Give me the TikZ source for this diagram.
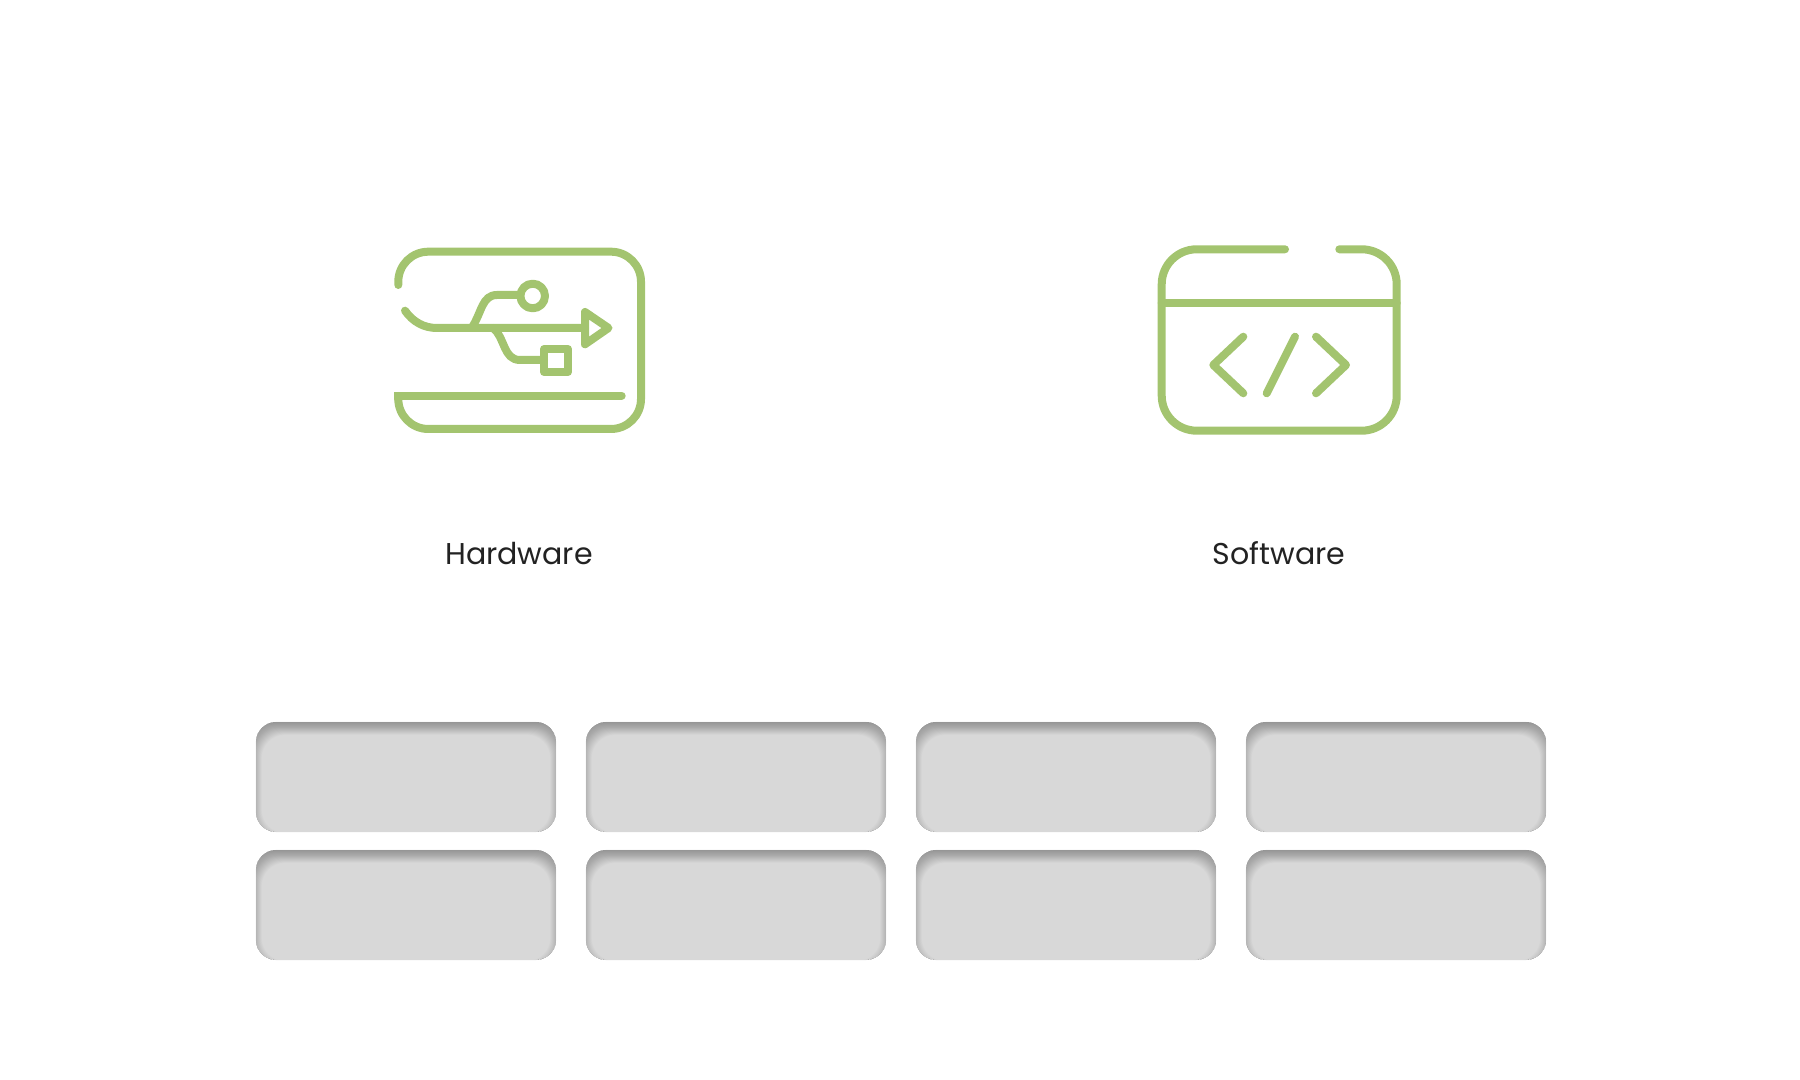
\documentclass[tikz,border=0pt]{standalone}
\usepackage{fontspec}
\setmainfont{Poppins}
\definecolor{icongreen}{HTML}{A3C46F}
\definecolor{slotgray}{HTML}{D8D8D8}
\definecolor{labelgray}{HTML}{222222}
\tikzset{
  icon/.style={draw=icongreen, line width=.08cm, line cap=round, line join=round},
  lbl/.style={text=labelgray, inner sep=0pt, anchor=base, font=\fontsize{8.55pt}{10pt}\selectfont},
  slot/.style={fill=slotgray, inner sep=0pt, minimum width=3cm, minimum height=1.1cm,
    rounded corners=.2cm, path picture={
      \foreach \h in {-7,-6.5,...,6}
        \fill[black, opacity=.0126, even odd rule]
          (path picture bounding box.north west) rectangle
          (path picture bounding box.south east)
          [rounded corners=.23cm]
          ([shift={(\h,{\h+7})}]path picture bounding box.north west) rectangle
          ([shift={(-\h,{7-\h})}]path picture bounding box.south east);
    }}
}
\begin{document}
\begin{tikzpicture}[x=.01cm, y=-.01cm]
  \useasboundingbox (0, 0) rectangle (1800, 1080);

  % usb icon
  \draw[icon, rounded corners=.3cm] (398.3, 285) -- (398.3, 251.7) -- (641, 251.7)
    -- (641, 429) -- (398.3, 429) -- (398.3, 396);
  \draw[icon, line join=miter] (398.3, 399) -- (398.3, 395.7) -- (621.7, 395.7);
  \draw[icon] (405, 310.7) .. controls (413, 322) and (424, 328) .. (437, 328)
    -- (585, 328);
  \draw[icon] (585, 312) -- (608.5, 328) -- (585, 344.3) -- cycle;
  \draw[icon] (471.7, 328) .. controls (482, 312) and (482, 295) .. (497, 295)
    -- (520, 295);
  \draw[icon] (532.7, 296) circle (12.3);
  \draw[icon] (493, 328) .. controls (505, 337) and (503, 360) .. (520, 360)
    -- (544, 360);
  \draw[icon] (544, 349) rectangle (568, 372);
  \node[lbl] (hardware) at (519, 565) {Hardware};

  % code icon
  \draw[icon, rounded corners=.35cm] (1285, 249.3) -- (1161.7, 249.3) -- (1161.7, 430.7)
    -- (1396.7, 430.7) -- (1396.7, 249.3) -- (1339.3, 249.3);
  \draw[icon] (1161.7, 303.3) -- (1396.7, 303.3);
  \draw[icon] (1243.3, 336.7) -- (1213.3, 365) -- (1243.3, 393.3);
  \draw[icon] (1295, 336.7) -- (1266.7, 393.3);
  \draw[icon] (1316, 336.7) -- (1346, 365) -- (1316, 393.3);
  \node[lbl] (software) at (1279, 565) {Software};

  % slots
  \foreach \col/\x in {1/406, 2/736, 3/1066, 4/1396}
    \foreach \row/\y in {1/777, 2/905}
      \node[slot] (slot\row\col) at (\x, \y) {};
\end{tikzpicture}
\end{document}
